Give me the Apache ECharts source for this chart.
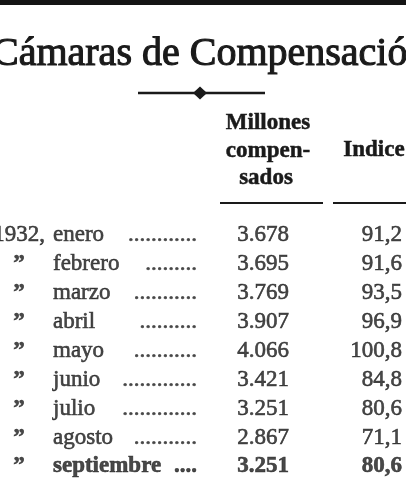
<!DOCTYPE html>
<html>
<head>
<meta charset="utf-8">
<script src="https://cdn.jsdelivr.net/npm/echarts@6/dist/echarts.min.js"></script>
<style>
html,body{margin:0;padding:0;background:#fff;}
#c{width:406px;height:488px;}
</style>
</head>
<body>
<div id="c"></div>
<script>
// ---- data ----
var title = 'Cámaras de Compensación';
var headMillones = ['Millones', 'compen-', 'sados'];
var headIndice = 'Indice';
var prefixes = ['1932,', '”', '”', '”', '”', '”', '”', '”', '”'];
var months = ['enero', 'febrero', 'marzo', 'abril', 'mayo', 'junio', 'julio', 'agosto', 'septiembre'];
var leaderDots = [12, 9, 11, 10, 11, 13, 13, 11, 4];
var millones = [3678, 3695, 3769, 3907, 4066, 3421, 3251, 2867, 3251];
var indice = [91.2, 91.6, 93.5, 96.9, 100.8, 84.8, 80.6, 71.1, 80.6];
var columns = ['prefijo', 'mes', 'puntos', 'millones', 'indice'];

var INK = '#1a1a1a';
var FONT = '"Liberation Serif", "DejaVu Serif", serif';

function fmtMill(v) {
  return String(v).replace(/\B(?=(\d{3})+(?!\d))/g, '.');
}
function fmtIdx(v) {
  return v.toFixed(1).replace('.', ',');
}
var lastRow = months.length - 1;

function rows(col, textFn, boldFn) {
  return months.map(function (m, i) {
    var item = { value: [col, m], txt: textFn(i) };
    if (boldFn(i)) item.label = { fontWeight: 'bold' };
    return item;
  });
}

function textSeries(col, textFn, labelOpts, boldFn) {
  var lbl = Object.assign({
    show: true,
    position: 'inside',
    verticalAlign: 'middle',
    fontFamily: FONT,
    fontSize: 23,
    color: INK,
    textBorderColor: INK,
    textBorderWidth: 0.6,
    formatter: function (p) { return p.data.txt; }
  }, labelOpts);
  return {
    type: 'scatter',
    symbolSize: 0,
    silent: true,
    data: rows(col, textFn, boldFn || function (i) { return i === lastRow; }),
    label: lbl
  };
}

var chart = echarts.init(document.getElementById('c'), null, { renderer: 'canvas' });

chart.setOption({
  backgroundColor: '#ffffff',
  animation: false,
  grid: { left: 0, right: 0, top: 221, bottom: 7 },
  xAxis: { type: 'category', data: columns, show: false, boundaryGap: true },
  yAxis: { type: 'category', data: months, inverse: true, show: false, boundaryGap: true },
  series: [
    textSeries('prefijo', function (i) { return prefixes[i]; }, { align: 'center', offset: [-21.6, 0] },
      function (i) { return prefixes[i] === '”'; }),
    textSeries('mes', function (i) { return months[i]; }, { align: 'left', offset: [-68.8, 0] }),
    textSeries('puntos', function (i) { return new Array(leaderDots[i] + 1).join('.'); }, { align: 'right', offset: [-6, 0] }),
    textSeries('millones', function (i) { return fmtMill(millones[i]); }, { align: 'right', offset: [4.8, 0] }),
    textSeries('indice', function (i) { return fmtIdx(indice[i]); }, { align: 'right', offset: [36.6, 0] })
  ],
  graphic: [
    { type: 'rect', shape: { x: 0, y: 0, width: 406, height: 5 }, style: { fill: '#141414' }, silent: true },
    { type: 'text', x: -8, y: 54, silent: true,
      style: { text: title, font: '40px ' + FONT, fill: INK, stroke: INK, lineWidth: 1.1, textAlign: 'left', textVerticalAlign: 'middle' } },
    { type: 'line', shape: { x1: 138, y1: 93, x2: 265, y2: 93 }, style: { stroke: INK, lineWidth: 2.6 }, silent: true },
    { type: 'polygon', shape: { points: [[193, 93], [200, 86.5], [207, 93], [200, 99.5]] }, style: { fill: INK }, silent: true },
    { type: 'text', x: 268, y: 123, silent: true,
      style: { text: headMillones[0], font: 'bold 23px ' + FONT, fill: INK, stroke: INK, lineWidth: 0.5, textAlign: 'center', textVerticalAlign: 'middle' } },
    { type: 'text', x: 268, y: 151, silent: true,
      style: { text: headMillones[1], font: 'bold 23px ' + FONT, fill: INK, stroke: INK, lineWidth: 0.5, textAlign: 'center', textVerticalAlign: 'middle' } },
    { type: 'text', x: 266, y: 178, silent: true,
      style: { text: headMillones[2], font: 'bold 23px ' + FONT, fill: INK, stroke: INK, lineWidth: 0.5, textAlign: 'center', textVerticalAlign: 'middle' } },
    { type: 'text', x: 374, y: 150, silent: true,
      style: { text: headIndice, font: 'bold 23px ' + FONT, fill: INK, stroke: INK, lineWidth: 0.5, textAlign: 'center', textVerticalAlign: 'middle' } },
    { type: 'line', shape: { x1: 220, y1: 203, x2: 323, y2: 203 }, style: { stroke: INK, lineWidth: 2 }, silent: true },
    { type: 'line', shape: { x1: 333, y1: 203, x2: 406, y2: 203 }, style: { stroke: INK, lineWidth: 2 }, silent: true }
  ]
});
</script>
</body>
</html>
